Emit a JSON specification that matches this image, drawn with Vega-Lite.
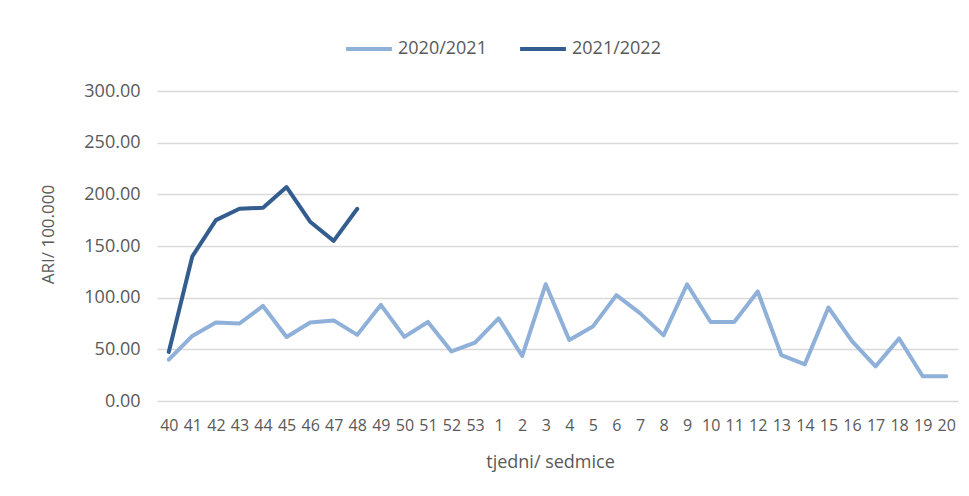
{
  "$schema": "https://vega.github.io/schema/vega-lite/v6.json",
  "width": 801,
  "height": 310,
  "autosize": {"type": "none"},
  "padding": {"left": 157, "top": 91, "right": 11, "bottom": 95},
  "background": "white",
  "config": {"view": {"stroke": null}, "font": "Open Sans"},
  "data": {"values": [
    {"week": "40", "idx": 1, "season": "2020/2021", "value": 40.1},
    {"week": "41", "idx": 2, "season": "2020/2021", "value": 63},
    {"week": "42", "idx": 3, "season": "2020/2021", "value": 76},
    {"week": "43", "idx": 4, "season": "2020/2021", "value": 75},
    {"week": "44", "idx": 5, "season": "2020/2021", "value": 92},
    {"week": "45", "idx": 6, "season": "2020/2021", "value": 62},
    {"week": "46", "idx": 7, "season": "2020/2021", "value": 76},
    {"week": "47", "idx": 8, "season": "2020/2021", "value": 78},
    {"week": "48", "idx": 9, "season": "2020/2021", "value": 64},
    {"week": "49", "idx": 10, "season": "2020/2021", "value": 93},
    {"week": "50", "idx": 11, "season": "2020/2021", "value": 62},
    {"week": "51", "idx": 12, "season": "2020/2021", "value": 76.5},
    {"week": "52", "idx": 13, "season": "2020/2021", "value": 48},
    {"week": "53", "idx": 14, "season": "2020/2021", "value": 56.5},
    {"week": "1", "idx": 15, "season": "2020/2021", "value": 80},
    {"week": "2", "idx": 16, "season": "2020/2021", "value": 43.5},
    {"week": "3", "idx": 17, "season": "2020/2021", "value": 113},
    {"week": "4", "idx": 18, "season": "2020/2021", "value": 59},
    {"week": "5", "idx": 19, "season": "2020/2021", "value": 72},
    {"week": "6", "idx": 20, "season": "2020/2021", "value": 102.5},
    {"week": "7", "idx": 21, "season": "2020/2021", "value": 85},
    {"week": "8", "idx": 22, "season": "2020/2021", "value": 63.5},
    {"week": "9", "idx": 23, "season": "2020/2021", "value": 113},
    {"week": "10", "idx": 24, "season": "2020/2021", "value": 76.5},
    {"week": "11", "idx": 25, "season": "2020/2021", "value": 76.5},
    {"week": "12", "idx": 26, "season": "2020/2021", "value": 106},
    {"week": "13", "idx": 27, "season": "2020/2021", "value": 44.5},
    {"week": "14", "idx": 28, "season": "2020/2021", "value": 35.5},
    {"week": "15", "idx": 29, "season": "2020/2021", "value": 90.5},
    {"week": "16", "idx": 30, "season": "2020/2021", "value": 58},
    {"week": "17", "idx": 31, "season": "2020/2021", "value": 33.5},
    {"week": "18", "idx": 32, "season": "2020/2021", "value": 60.5},
    {"week": "19", "idx": 33, "season": "2020/2021", "value": 24},
    {"week": "20", "idx": 34, "season": "2020/2021", "value": 24},
    {"week": "40", "idx": 1, "season": "2021/2022", "value": 47.5},
    {"week": "41", "idx": 2, "season": "2021/2022", "value": 140},
    {"week": "42", "idx": 3, "season": "2021/2022", "value": 175},
    {"week": "43", "idx": 4, "season": "2021/2022", "value": 186},
    {"week": "44", "idx": 5, "season": "2021/2022", "value": 187},
    {"week": "45", "idx": 6, "season": "2021/2022", "value": 207},
    {"week": "46", "idx": 7, "season": "2021/2022", "value": 173.5},
    {"week": "47", "idx": 8, "season": "2021/2022", "value": 155},
    {"week": "48", "idx": 9, "season": "2021/2022", "value": 186}
  ]},
  "mark": {"type": "line", "strokeWidth": 4, "strokeJoin": "round", "strokeCap": "round"},
  "encoding": {
    "x": {
      "field": "week", "type": "ordinal",
      "sort": ["40","41","42","43","44","45","46","47","48","49","50","51","52","53","1","2","3","4","5","6","7","8","9","10","11","12","13","14","15","16","17","18","19","20"],
      "scale": {"type": "point", "padding": 0.5},
      "axis": {
        "title": "tjedni/ sedmice", "domain": false, "ticks": false, "grid": false,
        "labelAngle": 0, "labelFontSize": 16, "labelColor": "#595959", "labelPadding": 16,
        "labelOverlap": false,
        "titleFontSize": 18, "titleFontWeight": "normal", "titleColor": "#595959",
        "titleX": 393, "titleY": 61, "titleBaseline": "middle", "titleAlign": "center"
      }
    },
    "y": {
      "field": "value", "type": "quantitative",
      "scale": {"domain": [0, 300], "nice": false},
      "axis": {
        "title": "ARI/ 100.000", "domain": false, "ticks": false,
        "values": [0, 50, 100, 150, 200, 250, 300], "format": ".2f",
        "grid": true, "gridColor": "#D9D9D9", "gridWidth": 1.5,
        "labelFontSize": 18, "labelColor": "#595959", "labelPadding": 17,
        "titleFontSize": 17, "titleFontWeight": "normal", "titleColor": "#595959",
        "titleX": -109, "titleY": 143, "titleAngle": -90, "titleAlign": "center", "titleBaseline": "middle"
      }
    },
    "color": {
      "field": "season", "type": "nominal",
      "scale": {"domain": ["2020/2021", "2021/2022"], "range": ["#8FB0D9", "#335C8F"]},
      "legend": {
        "title": null, "orient": "none", "direction": "horizontal",
        "legendX": 187, "legendY": -67,
        "symbolType": "stroke", "symbolStrokeWidth": 4, "symbolSize": 2100,
        "labelFontSize": 18, "labelColor": "#595959", "labelOffset": 4, "columnPadding": 25
      }
    },
    "order": {"field": "idx", "type": "quantitative"}
  }
}
